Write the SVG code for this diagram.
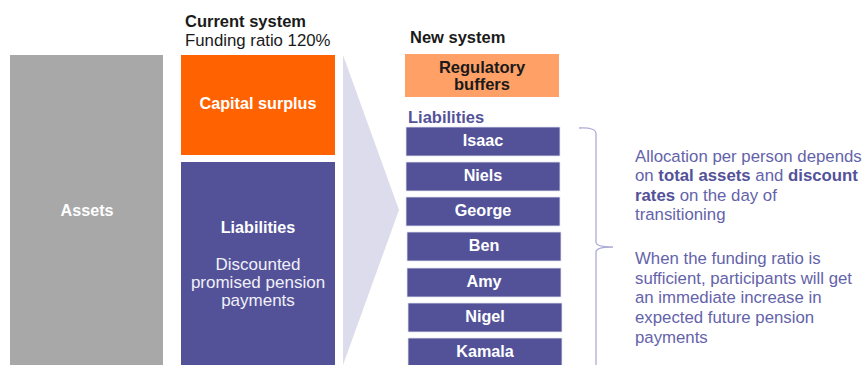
<svg xmlns="http://www.w3.org/2000/svg" width="867" height="365" viewBox="0 0 867 365">
  <style>
    text { font-family: "Liberation Sans", Arial, sans-serif; }
    .hdr { font-size: 16.5px; font-weight: bold; fill: #1a1a1a; }
    .sub { font-size: 16.8px; fill: #1a1a1a; }
    .lbl { font-size: 16.2px; font-weight: bold; fill: #ffffff; text-anchor: middle; }
    .body { font-size: 17px; fill: #f0f0f8; text-anchor: middle; }
    .person rect { fill: #535299; stroke: #e4e4f0; stroke-width: 0.8; }
    .person text { font-size: 16.2px; font-weight: bold; fill: #ffffff; text-anchor: middle; }
    .note { font-size: 16.8px; fill: #6463aa; }
    .note tspan.b { font-weight: bold; fill: #535299; }
  </style>
  <rect width="867" height="365" fill="#ffffff"/>

  <!-- column headings -->
  <text class="hdr" x="185" y="27">Current system</text>
  <text class="sub" x="185" y="46">Funding ratio 120%</text>
  <text class="hdr" x="410" y="43">New system</text>

  <!-- current system balance -->
  <g id="assets">
    <rect x="10" y="55" width="153" height="310" fill="#a8a8a8"/>
    <text class="lbl" x="87" y="216">Assets</text>
  </g>
  <g id="capital-surplus">
    <rect x="181" y="55" width="154" height="100" fill="#ff6200"/>
    <text class="lbl" x="258" y="109">Capital surplus</text>
  </g>
  <g id="liabilities-current">
    <rect x="181" y="162" width="154" height="203" fill="#535299"/>
    <text class="lbl" x="258" y="233">Liabilities</text>
    <text class="body" x="258" y="270">Discounted</text>
    <text class="body" x="258" y="288">promised pension</text>
    <text class="body" x="258" y="306">payments</text>
  </g>

  <!-- transition chevron and bracket -->
  <g id="connectors">
    <polygon points="343,55 399,210 343,365" fill="#dcdcec"/>
    <path d="M579,128 Q596,127 596,134 L596,242 Q596,247 613,247 Q596,247 596,252 L596,365" fill="none" stroke="#acacd8" stroke-width="1.3"/>
  </g>

  <!-- new system -->
  <g id="regulatory-buffers">
    <rect x="405" y="54" width="154" height="43" fill="#ffa066"/>
    <text class="hdr" x="482" y="73" text-anchor="middle">Regulatory</text>
    <text class="hdr" x="482" y="90" text-anchor="middle">buffers</text>
  </g>
  <text x="408" y="123" font-size="16.5" font-weight="bold" fill="#535299">Liabilities</text>

  <g id="isaac" class="person">
    <rect x="406" y="127" width="154" height="29"/>
    <text x="483" y="146">Isaac</text>
  </g>
  <g id="niels" class="person">
    <rect x="406" y="162" width="154" height="29"/>
    <text x="483" y="181">Niels</text>
  </g>
  <g id="george" class="person">
    <rect x="406" y="197" width="154" height="29"/>
    <text x="483" y="216">George</text>
  </g>
  <g id="ben" class="person">
    <rect x="407" y="232" width="154" height="29"/>
    <text x="484" y="251">Ben</text>
  </g>
  <g id="amy" class="person">
    <rect x="407" y="268" width="154" height="29"/>
    <text x="484" y="287">Amy</text>
  </g>
  <g id="nigel" class="person">
    <rect x="408" y="303" width="154" height="29"/>
    <text x="485" y="322">Nigel</text>
  </g>
  <g id="kamala" class="person">
    <rect x="408" y="338" width="154" height="30"/>
    <text x="485" y="357">Kamala</text>
  </g>

  <!-- explanatory notes -->
  <g id="notes">
    <text class="note" x="635" y="162">Allocation per person depends</text>
    <text class="note" x="635" y="181">on <tspan class="b">total assets</tspan> and <tspan class="b">discount</tspan></text>
    <text class="note" x="635" y="201"><tspan class="b">rates</tspan> on the day of</text>
    <text class="note" x="635" y="220">transitioning</text>
    <text class="note" x="635" y="264">When the funding ratio is</text>
    <text class="note" x="635" y="284">sufficient, participants will get</text>
    <text class="note" x="635" y="303">an immediate increase in</text>
    <text class="note" x="635" y="323">expected future pension</text>
    <text class="note" x="635" y="343">payments</text>
  </g>
</svg>
